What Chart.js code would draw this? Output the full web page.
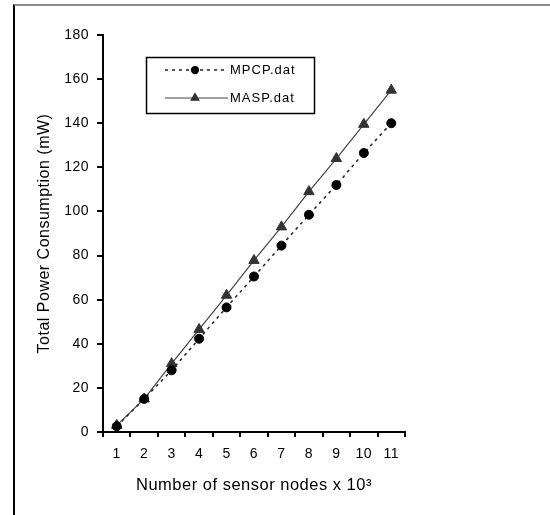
<!DOCTYPE html>
<html>
<head>
<meta charset="utf-8">
<script src="https://cdn.jsdelivr.net/npm/chart.js"></script>
<style>
  body { margin: 0; background: #fff; }
  #wrap { position: relative; width: 550px; height: 515px; overflow: hidden; }
  #frame { position: absolute; left: 13px; top: 4px; width: 600px; height: 600px;
           border-top: 2px solid #8a8a8a; border-left: 2px solid #000; }
  #grafico { position: absolute; left: 0; top: 0; }
</style>
</head>
<body>
<div id="wrap">
  <div id="frame"></div>
  <canvas id="grafico" width="550" height="515"></canvas>
</div>
<script>
// datos
const nodos = ['1', '2', '3', '4', '5', '6', '7', '8', '9', '10', '11'];
const mpcp = [2.6, 15, 28, 42.3, 56.5, 70.5, 84.5, 98.5, 112, 126.5, 140];
const masp = [3, 15, 31, 46.5, 62, 77.8, 93, 109, 124, 139.5, 155];
const yMin = 0;
const yMax = 180;
const yPaso = 20;

const fuente = '"Liberation Sans", Arial, sans-serif';

// espaciado de letras como en el original
const espaciado = {
    id: 'espaciado',
    beforeDraw(chart) {
        chart.ctx.letterSpacing = '0.5px';
    }
};

// leyenda con caja dentro del area del grafico
const leyendaCaja = {
    id: 'leyendaCaja',
    afterDraw(chart) {
        const ctx = chart.ctx;
        ctx.save();
        ctx.letterSpacing = '1px';
        ctx.strokeStyle = '#000';
        ctx.lineWidth = 1.5;
        ctx.strokeRect(146.5, 57.5, 168, 56);
        chart.data.datasets.forEach((ds, i) => {
            const y = 70 + i * 28;
            ctx.setLineDash(ds.borderDash || []);
            ctx.strokeStyle = ds.borderColor;
            ctx.lineWidth = ds.borderWidth;
            ctx.beginPath();
            ctx.moveTo(165, y);
            ctx.lineTo(228, y);
            ctx.stroke();
            ctx.setLineDash([]);
            ctx.fillStyle = ds.pointBackgroundColor;
            ctx.strokeStyle = ds.pointBackgroundColor;
            Chart.helpers.drawPoint(ctx, {
                pointStyle: ds.pointStyle,
                radius: ds.pointRadius * 0.75,
                rotation: 0,
                borderWidth: 1
            }, 195, y);
            ctx.fillStyle = '#000';
            ctx.font = '13px ' + fuente;
            ctx.textBaseline = 'middle';
            ctx.textAlign = 'left';
            ctx.fillText(ds.label, 230, y);
        });
        ctx.restore();
    }
};

const ctx = document.getElementById('grafico').getContext('2d');
new Chart(ctx, {
    type: 'line',
    data: {
        labels: nodos,
        datasets: [{
            label: 'MPCP.dat',
            data: mpcp,
            borderColor: '#222',
            borderWidth: 1.5,
            borderDash: [3, 4],
            pointStyle: 'circle',
            pointRadius: 4.5,
            pointBackgroundColor: '#000',
            pointBorderColor: '#000',
            pointBorderWidth: 1,
            tension: 0
        }, {
            label: 'MASP.dat',
            data: masp,
            borderColor: '#444',
            borderWidth: 1.2,
            pointStyle: 'triangle',
            pointRadius: 6,
            pointBackgroundColor: '#333',
            pointBorderColor: '#333',
            pointBorderWidth: 1,
            tension: 0
        }]
    },
    options: {
        responsive: false,
        animation: false,
        layout: { padding: { top: 35, right: 145, left: 14, bottom: 0 } },
        plugins: {
            legend: { display: false },
            tooltip: { enabled: false }
        },
        scales: {
            x: {
                offset: true,
                afterFit: (scale) => { scale.height = 83; },
                grid: {
                    offset: true,
                    drawOnChartArea: false,
                    drawTicks: true,
                    tickLength: 5,
                    color: '#000',
                    lineWidth: 2
                },
                border: { display: true, color: '#000', width: 2 },
                ticks: {
                    color: '#000',
                    font: { family: fuente, size: 14 },
                    padding: 9,
                    maxRotation: 0,
                    autoSkip: false
                },
                title: {
                    display: true,
                    text: 'Number of sensor nodes x 10³',
                    color: '#000',
                    font: { family: fuente, size: 16.5 },
                    padding: { top: 0, bottom: 20 }
                }
            },
            y: {
                min: yMin,
                max: yMax,
                afterFit: (scale) => { scale.width = 89; },
                grid: {
                    drawOnChartArea: false,
                    drawTicks: true,
                    tickLength: 6,
                    color: '#000',
                    lineWidth: 2
                },
                border: { display: true, color: '#000', width: 2 },
                ticks: {
                    stepSize: yPaso,
                    color: '#000',
                    font: { family: fuente, size: 14 },
                    padding: 8
                },
                title: {
                    display: true,
                    text: 'Total Power Consumption (mW)',
                    color: '#000',
                    font: { family: fuente, size: 16 },
                    padding: { top: 21, bottom: 0 }
                }
            }
        }
    },
    plugins: [espaciado, leyendaCaja]
});
</script>
</body>
</html>
